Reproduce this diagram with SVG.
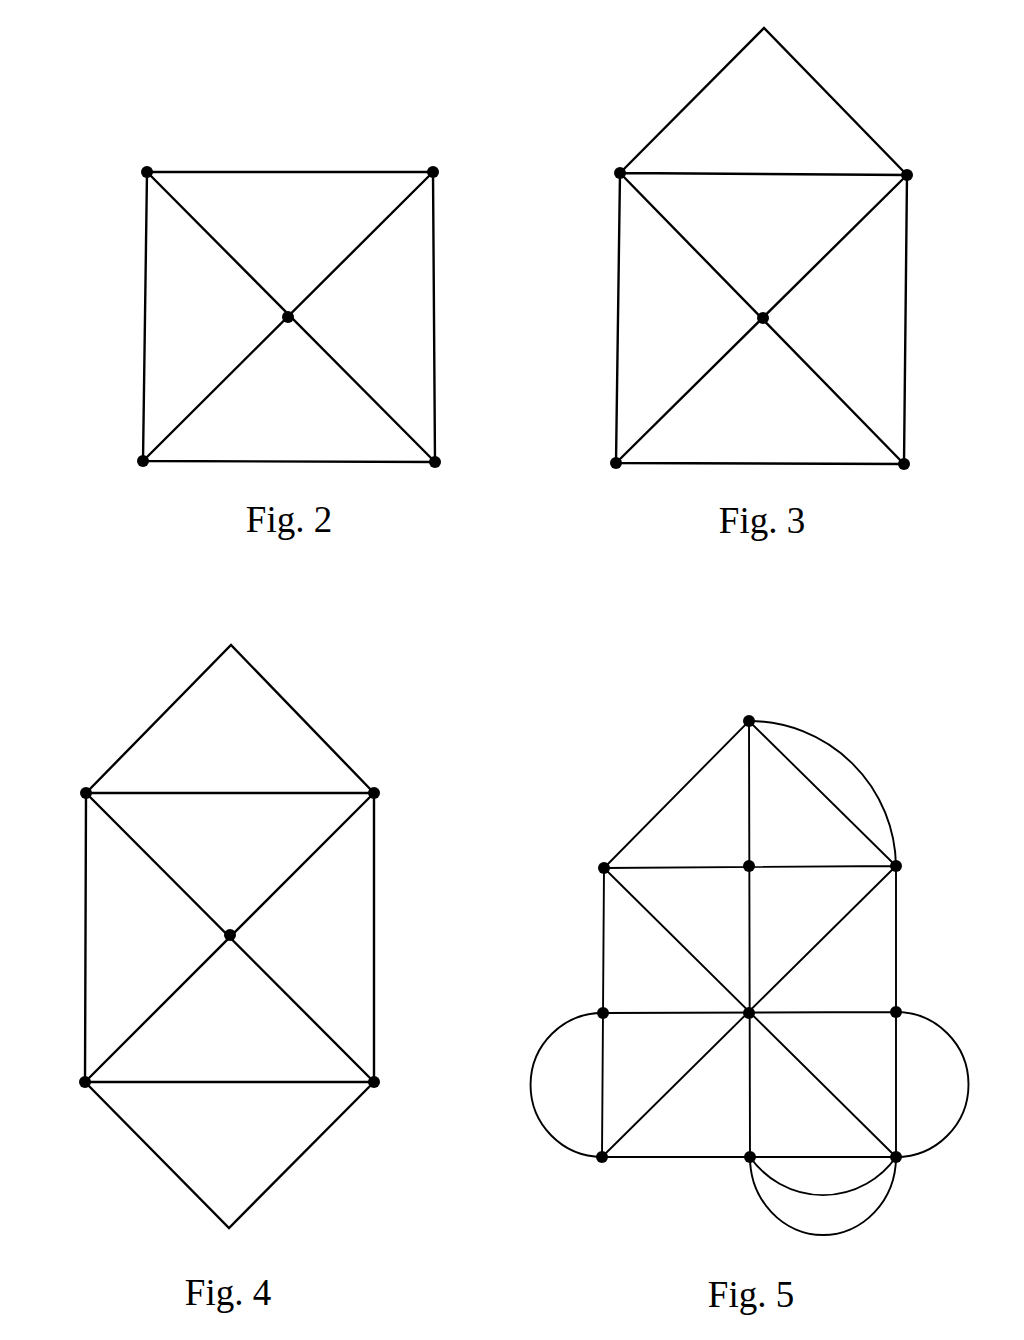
<svg xmlns="http://www.w3.org/2000/svg" width="1024" height="1340" viewBox="0 0 1024 1340">
<style>
.e{stroke:#000;stroke-width:2.4;fill:none;stroke-linecap:round}
.t{stroke:#000;stroke-width:1.9;fill:none}
.n{fill:#000}
.lbl{font-family:"Liberation Serif","Times New Roman",serif;font-size:37px;fill:#000;text-anchor:middle}
</style>
<rect width="1024" height="1340" fill="#fff"/>
<g id="fig2">
<g id="fig2-edges">
<path class="e" d="M147,172 L433,172 L435,462 L143,461 Z M147,172 L435,462 M433,172 L143,461"/>
</g>
<g id="fig2-nodes">
<circle id="f2n1" class="n" cx="147" cy="172" r="6"/>
<circle id="f2n2" class="n" cx="433" cy="172" r="6"/>
<circle id="f2n3" class="n" cx="288" cy="317" r="6"/>
<circle id="f2n4" class="n" cx="143" cy="461" r="6"/>
<circle id="f2n5" class="n" cx="435" cy="462" r="6"/>
</g>
<text class="lbl" x="289" y="532">Fig. 2</text>
</g>
<g id="fig3">
<g id="fig3-edges">
<path class="e" d="M620,173 L764,28 L907,175 M620,173 L907,175 L904,464 L616,463 Z M620,173 L904,464 M907,175 L616,463"/>
</g>
<g id="fig3-nodes">
<circle class="n" cx="620" cy="173" r="6"/>
<circle class="n" cx="907" cy="175" r="6"/>
<circle class="n" cx="763" cy="318" r="6"/>
<circle class="n" cx="616" cy="463" r="6"/>
<circle class="n" cx="904" cy="464" r="6"/>
</g>
<text class="lbl" x="762" y="533">Fig. 3</text>
</g>
<g id="fig4">
<g id="fig4-edges">
<path class="e" d="M86,793 L231,645 L374,793 M86,793 L374,793 L374,1082 L85,1082 Z M86,793 L374,1082 M374,793 L85,1082 M85,1082 L229,1228 L374,1082"/>
</g>
<g id="fig4-nodes">
<circle class="n" cx="86" cy="793" r="6"/>
<circle class="n" cx="374" cy="793" r="6"/>
<circle class="n" cx="230" cy="935" r="6"/>
<circle class="n" cx="85" cy="1082" r="6"/>
<circle class="n" cx="374" cy="1082" r="6"/>
</g>
<text class="lbl" x="228" y="1305">Fig. 4</text>
</g>
<g id="fig5">
<g id="fig5-edges">
<path class="t" d="M604,868 L749,721 L896,866 M749,721 L750,1157 M604,868 L896,866 M604,868 L603,1013 L602,1157 M896,866 L896,1012 L896,1157 M604,868 L896,1157 M896,866 L602,1157 M603,1013 L896,1012 M602,1157 L896,1157"/>
<path class="t" d="M749,721 A147,147 0 0 1 896,866"/>
<path class="t" d="M603,1013 A72,72 0 0 0 602,1157"/>
<path class="t" d="M896,1012 A72,72 0 0 1 896,1157"/>
<path class="t" d="M750,1157 A89,89 0 0 0 896,1157"/>
<path class="t" d="M750,1157 A73,78 0 0 0 896,1157"/>
</g>
<g id="fig5-nodes">
<circle class="n" cx="749" cy="721" r="6"/>
<circle class="n" cx="604" cy="868" r="6"/>
<circle class="n" cx="749" cy="866" r="6"/>
<circle class="n" cx="896" cy="866" r="6"/>
<circle class="n" cx="603" cy="1013" r="6"/>
<circle class="n" cx="749" cy="1013" r="6"/>
<circle class="n" cx="896" cy="1012" r="6"/>
<circle class="n" cx="602" cy="1157" r="6"/>
<circle class="n" cx="750" cy="1157" r="6"/>
<circle class="n" cx="896" cy="1157" r="6"/>
</g>
<text class="lbl" x="751" y="1307">Fig. 5</text>
</g>
</svg>
